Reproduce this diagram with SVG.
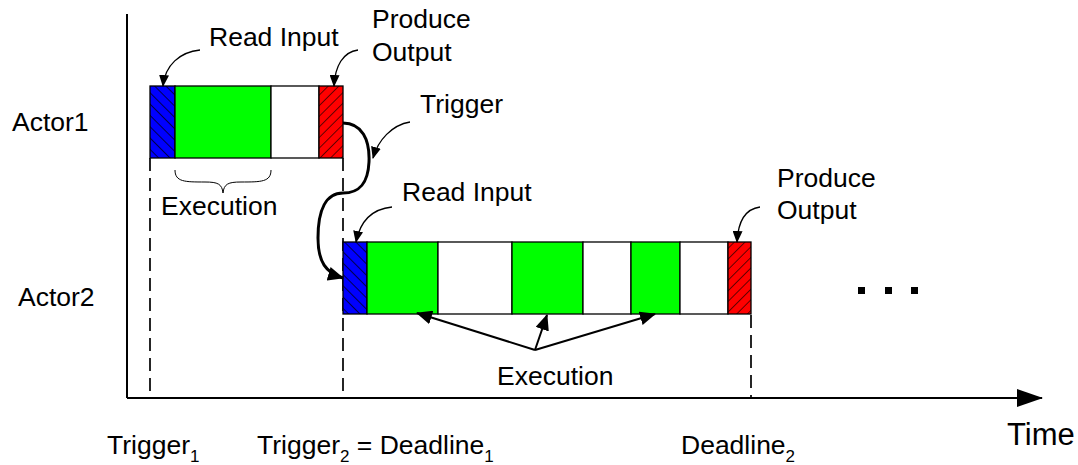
<svg xmlns="http://www.w3.org/2000/svg" width="1078" height="465" viewBox="0 0 1078 465">
<defs>
<pattern id="hatchB" patternUnits="userSpaceOnUse" width="8" height="8" patternTransform="rotate(-45)">
<rect width="8" height="8" fill="#0000ff"/>
<line x1="0" y1="0" x2="0" y2="8" stroke="#000" stroke-width="1.4"/>
</pattern>
<pattern id="hatchR" patternUnits="userSpaceOnUse" width="7.5" height="7.5" patternTransform="rotate(45)">
<rect width="7.5" height="7.5" fill="#ff0000"/>
<line x1="0" y1="0" x2="0" y2="7.5" stroke="#000" stroke-width="1.2"/>
</pattern>
<marker id="ah" markerWidth="12" markerHeight="10" refX="11" refY="5" orient="auto" markerUnits="userSpaceOnUse">
<path d="M0,0 L12,5 L0,10 Z" fill="#000"/>
</marker>
<marker id="ahBig" markerWidth="16" markerHeight="14" refX="15" refY="7" orient="auto" markerUnits="userSpaceOnUse">
<path d="M0,0 L16,7 L0,14 Z" fill="#000"/>
</marker>
<marker id="axisHead" markerWidth="26" markerHeight="18" refX="25" refY="9" orient="auto" markerUnits="userSpaceOnUse">
<path d="M0,0 L26,9 L0,18 Z" fill="#000"/>
</marker>
</defs>
<style>
text{font-family:"Liberation Sans",Arial,sans-serif;font-size:26.5px;fill:#000}
.sub{font-size:17px}
.time{font-size:31px}
.seg{stroke:#000;stroke-width:1.3}
.green{fill:#00ff00}
.white{fill:#fff}
.thin{fill:none;stroke:#000;stroke-width:1.3}
.dash{fill:none;stroke:#000;stroke-width:1.7;stroke-dasharray:13,7}
.axis{fill:none;stroke:#000;stroke-width:2}
</style>
<rect width="1078" height="465" fill="#fff"/>

<g id="axes">
<line class="axis" x1="127" y1="14" x2="127" y2="398"/>
<line class="axis" x1="127" y1="398" x2="1042" y2="398" marker-end="url(#axisHead)"/>
<text class="time" x="1007" y="445">Time</text>
</g>

<g id="dashed-lines">
<line class="dash" x1="150" y1="158" x2="150" y2="398"/>
<line class="dash" x1="343" y1="158" x2="343" y2="398"/>
<line class="dash" x1="751" y1="315" x2="751" y2="398"/>
</g>

<g id="actor1">
<text x="12" y="131">Actor1</text>
<rect class="seg" x="150" y="86" width="25" height="72" fill="url(#hatchB)"/>
<rect class="seg green" x="175" y="86" width="96" height="72"/>
<rect class="seg white" x="271" y="86" width="48" height="72"/>
<rect class="seg" x="319" y="86" width="24" height="72" fill="url(#hatchR)"/>
</g>

<g id="actor2">
<text x="18" y="306">Actor2</text>
<rect class="seg" x="343" y="242" width="24" height="72" fill="url(#hatchB)"/>
<rect class="seg green" x="367" y="242" width="71" height="72"/>
<rect class="seg white" x="438" y="242" width="74" height="72"/>
<rect class="seg green" x="512" y="242" width="71" height="72"/>
<rect class="seg white" x="583" y="242" width="48" height="72"/>
<rect class="seg green" x="631" y="242" width="49" height="72"/>
<rect class="seg white" x="680" y="242" width="48" height="72"/>
<rect class="seg" x="728" y="242" width="23" height="72" fill="url(#hatchR)"/>
</g>

<g id="labels">
<text x="209" y="46">Read Input</text>
<text x="372" y="28">Produce</text>
<text x="372" y="61">Output</text>
<text x="420" y="113">Trigger</text>
<text x="161" y="215">Execution</text>
<text x="402" y="201">Read Input</text>
<text x="777" y="187">Produce</text>
<text x="777" y="219">Output</text>
<text x="497" y="385">Execution</text>
<text x="107" y="454">Trigger<tspan class="sub" dy="8">1</tspan></text>
<text x="257" y="454">Trigger<tspan class="sub" dy="8">2</tspan><tspan dy="-8"> = Deadline</tspan><tspan class="sub" dy="8">1</tspan></text>
<text x="681" y="454">Deadline<tspan class="sub" dy="8">2</tspan></text>
</g>

<g id="ellipsis">
<rect x="858" y="287" width="7" height="7" fill="#000"/>
<rect x="885" y="287" width="7" height="7" fill="#000"/>
<rect x="911" y="287" width="7" height="7" fill="#000"/>
</g>

<g id="connectors">
<path class="thin" d="M200,50 C180,52 165,65 163,86" marker-end="url(#ah)"/>
<path class="thin" d="M358,50 C343,52 335,66 334,86" marker-end="url(#ah)"/>
<path class="thin" d="M410,122 C392,125 378,140 373,158" marker-end="url(#ah)"/>
<path class="thin" d="M392,207 C372,209 360,222 356,242" marker-end="url(#ah)"/>
<path class="thin" d="M760,207 C745,209 738,222 737,242" marker-end="url(#ah)"/>
<path d="M175,170 C175,182 185,182 205,182 C218,182 222,184 223,193 C224,184 228,182 241,182 C261,182 271,182 271,170" fill="none" stroke="#000" stroke-width="1"/>
<path d="M343,123 C362,123 370,140 369,162 C368,183 360,193 343,193 C326,193 318,210 318,238 C318,262 326,273 343,278" fill="none" stroke="#000" stroke-width="3" marker-end="url(#ahBig)"/>
<line x1="535" y1="350" x2="417" y2="313" stroke="#000" stroke-width="2" marker-end="url(#ahBig)"/>
<line x1="535" y1="350" x2="547" y2="315" stroke="#000" stroke-width="2" marker-end="url(#ahBig)"/>
<line x1="535" y1="350" x2="655" y2="314" stroke="#000" stroke-width="2" marker-end="url(#ahBig)"/>
</g>
</svg>
